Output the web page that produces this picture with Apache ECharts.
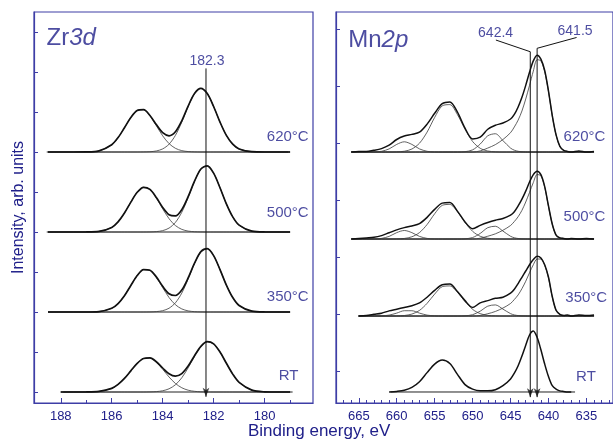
<!DOCTYPE html>
<html lang="en" style="height: 100%">
<head>
<meta charset="utf-8">
<title>Zr3d and Mn2p spectra</title>
</head>
<body style="height: 100%; margin: 0">
<div id="container" style="height: 100%"></div>

<script type="text/javascript" src="https://cdn.jsdelivr.net/npm/echarts/dist/echarts.min.js"></script>

<script type="text/javascript">

var dom = document.getElementById('container');
var myChart = echarts.init(dom);

var textColor = '#20208a';
var frameColor = '#3e3ea6';
var font = 'Liberation Sans, Arial, sans-serif';

// spectra from top to bottom
var temps = ['620°C', '500°C', '350°C', 'RT'];

// ---- Zr3d ----
var zrBE = [188.5, 188, 187.5, 187, 186.5, 186, 185.75, 185.5, 185.25, 185, 184.75, 184.5, 184.25, 184, 183.75,
            183.5, 183.25, 183, 182.75, 182.5, 182.25, 182, 181.75, 181.5, 181.25, 181, 180.5, 180, 179.5, 179];
var zrOffset = [6, 4, 2, 0];
var zrEnvelope = [
    [0,0,0,0.002,0.028,0.181,0.360,0.607,0.863,1.038, 1.058,0.914,0.685,0.482,0.405,0.507,0.781,1.148,1.464,1.59, 1.461,1.137,0.747,0.415,0.195,0.077,0.007,0,0,0],
    [0,0,0,0.001,0.014,0.115,0.254,0.474,0.746,0.992, 1.117,1.064,0.863,0.614,0.431,0.401,0.559,0.883,1.272,1.575, 1.655,1.471,1.106,0.702,0.377,0.171,0.021,0.001,0,0],
    [0,0,0,0,0.011,0.093,0.212,0.407,0.662,0.912, 1.061,1.045,0.878,0.643,0.456,0.412,0.549,0.852,1.220,1.509, 1.585,1.409,1.060,0.673,0.361,0.164,0.020,0.001,0,0],
    [null,0,0,0.001,0.014,0.091,0.189,0.339,0.529,0.716, 0.838,0.853,0.757,0.600,0.455,0.395,0.461,0.649,0.908,1.141, 1.257,1.203,0.999,0.718,0.447,0.241,0.046,0.005,0,0]
];
var zr52 = [
    [0,0,0,0,0,0,0,0,0,0, 0.002,0.007,0.026,0.077,0.195,0.415,0.747,1.137,1.461,1.59, 1.461,1.137,0.747,0.415,0.195,0.077,0.007,0,0,0],
    [0,0,0,0,0,0,0,0,0,0, 0,0.002,0.010,0.034,0.098,0.240,0.493,0.860,1.265,1.573, 1.655,1.471,1.106,0.702,0.377,0.171,0.021,0.001,0,0],
    [0,0,0,0,0,0,0,0,0,0, 0,0.002,0.010,0.033,0.094,0.230,0.472,0.824,1.212,1.507, 1.585,1.409,1.060,0.673,0.361,0.164,0.020,0.001,0,0],
    [null,0,0,0,0,0,0,0,0,0, 0,0.003,0.010,0.031,0.080,0.181,0.355,0.604,0.891,1.136, 1.256,1.203,0.999,0.718,0.447,0.241,0.046,0.005,0,0]
];
var zr32 = [
    [0,0,0,0.002,0.028,0.181,0.360,0.607,0.863,1.038, 1.056,0.907,0.659,0.405,0.210,0.092,0.034,0.011,0.003,0, 0,0,0,0,0,0,0,0,0,0],
    [0,0,0,0.001,0.014,0.115,0.254,0.474,0.746,0.992, 1.117,1.062,0.853,0.580,0.333,0.161,0.066,0.023,0.007,0.002, 0,0,0,0,0,0,0,0,0,0],
    [0,0,0,0,0.011,0.093,0.212,0.407,0.662,0.912, 1.061,1.043,0.868,0.610,0.362,0.182,0.077,0.028,0.008,0.002, 0,0,0,0,0,0,0,0,0,0],
    [null,0,0,0.001,0.014,0.091,0.189,0.339,0.529,0.716, 0.838,0.850,0.747,0.569,0.375,0.214,0.106,0.045,0.017,0.005, 0.001,0,0,0,0,0,0,0,0,0]
];
var zrBaseline = [[188.55, 179.08], [188.55, 179.0], [188.5, 179.0], [187.9, 178.9]];
var zrPeak = 182.3;
var zrTicks = [188, 186, 184, 182, 180];
var zrMinorTicks = [187, 185, 183, 181, 179];
var zrYTicks = [0, 1, 2, 3, 4, 5, 6, 7, 8, 9];

// ---- Mn2p ----
var mnBE = [666, 665, 664, 663, 662, 661, 660, 659, 658, 657, 656, 655, 654, 653, 652, 651, 650, 649, 648, 647,
            646, 645, 644.5, 644, 643.5, 643, 642.5, 642, 641.5, 641, 640.5, 640, 639.5, 639, 638.5, 638, 637.5, 637, 636, 635, 634];
var mnOffset = [4.21, 2.684, 1.333, 0];
var mnEnvelope = [
    [0.00,0.01,0.01,0.03,0.06,0.12,0.22,0.28,0.31,0.35, 0.49,0.68,0.85,0.88,0.70,0.42,0.23,0.26,0.40,0.47, 0.51,0.58,0.66,0.79,0.96,1.17,1.40,1.60,1.70,1.63, 1.43,1.07,0.64,0.30,0.10,0.03,0.01,0.00,0.02,0.00, 0.01],
    [0.00,0.01,0.02,0.03,0.06,0.11,0.16,0.20,0.23,0.27, 0.38,0.52,0.63,0.64,0.49,0.30,0.18,0.24,0.29,0.33, 0.36,0.42,0.48,0.58,0.70,0.84,1.00,1.13,1.19,1.13, 0.92,0.58,0.26,0.07,0.02,0.01,0.00,0.01,0.00,0.01, 0.00],
    [null,0.00,0.01,0.03,0.05,0.09,0.12,0.15,0.18,0.23, 0.33,0.45,0.55,0.56,0.43,0.27,0.15,0.23,0.27,0.31, 0.33,0.40,0.47,0.57,0.68,0.79,0.90,0.99,1.05,1.02, 0.90,0.68,0.34,0.10,0.03,0.01,0.02,0.00,0.02,0.01, 0.02],
    [null,null,null,null,null,0.00,0.01,0.03,0.08,0.18, 0.34,0.49,0.56,0.50,0.31,0.13,0.05,0.02,0.02,0.04, 0.11,0.23,0.33,0.46,0.63,0.82,1.00,1.07,0.96,0.74, 0.49,0.27,0.11,0.05,0.02,0.01,0.00,0.00,null,null, null]
];
// fitted components (620, 500, 350 only)
var mnMain = [
    [0,0,0,0,0,0,0,0,0,0, 0,0,0,0,0,0,0,0.02,0.07,0.13, 0.22,0.34,0.44,0.56,0.72,0.93,1.17,1.42,1.62,1.60, 1.41,1.06,0.63,0.30,0.10,0.03,0.01,0,0,0, 0],
    [0,0,0,0,0,0,0,0,0,0, 0,0,0,0,0,0,0,0.014,0.049,0.091, 0.154,0.237,0.307,0.391,0.503,0.649,0.817,0.991,1.131,1.11, 0.91,0.57,0.26,0.07,0.02,0.01,0,0,0,0, 0],
    [0,0,0,0,0,0,0,0,0,0, 0,0,0,0,0,0,0,0.01,0.04,0.08, 0.14,0.22,0.29,0.37,0.48,0.61,0.76,0.90,1.00,1.00, 0.89,0.67,0.33,0.10,0.03,0.01,0,0,0,0, 0]
];
var mnSat1 = [
    [0,0,0,0,0,0,0,0,0,0, 0,0,0,0,0,0.006,0.038,0.140,0.285,0.321, 0.200,0.069,0.032,0.013,0.005,0.001,0,0,0,0, 0,0,0,0,0,0,0,0,0,0, 0],
    [0,0,0,0,0,0,0,0,0,0, 0,0,0,0,0,0.004,0.026,0.098,0.199,0.224, 0.139,0.048,0.022,0.009,0.003,0.001,0,0,0,0, 0,0,0,0,0,0,0,0,0,0, 0],
    [0,0,0,0,0,0,0,0,0,0, 0,0,0,0,0,0.004,0.023,0.085,0.173,0.195, 0.121,0.042,0.019,0.008,0.003,0.001,0,0,0,0, 0,0,0,0,0,0,0,0,0,0, 0]
];
var mn2p12 = [
    [0,0,0,0,0,0,0.003,0.014,0.053,0.155, 0.349,0.607,0.811,0.832,0.657,0.399,0.185,0.066,0.018,0.004, 0,0,0,0,0,0,0,0,0,0, 0,0,0,0,0,0,0,0,0,0, 0],
    [0,0,0,0,0,0,0.002,0.010,0.039,0.113, 0.254,0.443,0.591,0.607,0.479,0.291,0.135,0.048,0.013,0.003, 0,0,0,0,0,0,0,0,0,0, 0,0,0,0,0,0,0,0,0,0, 0],
    [0,0,0,0,0,0,0.002,0.009,0.034,0.098, 0.222,0.385,0.515,0.528,0.417,0.253,0.117,0.042,0.011,0.003, 0,0,0,0,0,0,0,0,0,0, 0,0,0,0,0,0,0,0,0,0, 0]
];
var mnSat2 = [
    [0,0,0,0.001,0.013,0.055,0.134,0.180,0.134,0.055, 0.013,0.001,0,0,0,0,0,0,0,0, 0,0,0,0,0,0,0,0,0,0, 0,0,0,0,0,0,0,0,0,0, 0],
    [0,0,0,0,0.011,0.046,0.112,0.150,0.112,0.046, 0.011,0.001,0,0,0,0,0,0,0,0, 0,0,0,0,0,0,0,0,0,0, 0,0,0,0,0,0,0,0,0,0, 0],
    [0,0,0,0,0.003,0.016,0.051,0.093,0.093,0.051, 0.016,0.003,0,0,0,0,0,0,0,0, 0,0,0,0,0,0,0,0,0,0, 0,0,0,0,0,0,0,0,0,0, 0]
];
var mnBaseline = [[665.8, 634.4], [665.8, 634.1], [665.1, 634.0], [660.8, 636.5]];
var mnPeaks = [642.4, 641.5];
var mnTicks = [665, 660, 655, 650, 645, 640, 635];
var mnMinorTicks = [632, 633, 634, 636, 637, 638, 639, 641, 642, 643, 644, 646, 647, 648, 649, 651, 652, 653, 654,
                    656, 657, 658, 659, 661, 662, 663, 664, 666, 667];
var mnYTicks = [0.36, 1.36, 2.36, 3.36, 4.36, 5.36, 6.36];

function pairs(be, vals, offset, ref) {
    var out = [];
    for (var i = 0; i < be.length; i++) {
        if (vals[i] == null || (ref && ref[i] == null)) continue;
        out.push([be[i], vals[i] + offset]);
    }
    return out;
}

function curve(panel, data, width, color, z, straight) {
    return {
        type: 'line', xAxisIndex: panel * 2, yAxisIndex: panel, data: data,
        symbol: 'none', smooth: straight ? false : 0.3, silent: true, z: z,
        lineStyle: { width: width, color: color }
    };
}

var series = [];
for (var k = 0; k < 4; k++) {
    series.push(curve(0, [[zrBaseline[k][0], zrOffset[k]], [zrBaseline[k][1], zrOffset[k]]], 1, '#222', 2, true));
    series.push(curve(0, pairs(zrBE, zr52[k], zrOffset[k]), 0.8, '#3a3a3a', 3));
    series.push(curve(0, pairs(zrBE, zr32[k], zrOffset[k]), 0.8, '#3a3a3a', 3));
    series.push(curve(0, pairs(zrBE, zrEnvelope[k], zrOffset[k]), 1.7, '#111', 4));

    series.push(curve(1, [[mnBaseline[k][0], mnOffset[k]], [mnBaseline[k][1], mnOffset[k]]], 1, '#222', 2, true));
    if (k < 3) {
        [mnMain, mnSat1, mn2p12, mnSat2].forEach(function (comp) {
            series.push(curve(1, pairs(mnBE, comp[k], mnOffset[k], mnEnvelope[k]), 0.8, '#3a3a3a', 3));
        });
    }
    series.push(curve(1, pairs(mnBE, mnEnvelope[k], mnOffset[k]), 1.5, '#111', 4));
}

// peak position markers
series.push(curve(0, [[zrPeak, 8.09], [zrPeak, -0.12]], 1, '#111', 5, true));
series.push(curve(1, [[646.93, 6.175], [mnPeaks[0], 5.97], [mnPeaks[0], -0.09]], 1, '#111', 5, true));
series.push(curve(1, [[636.3, 6.22], [mnPeaks[1], 6.03], [mnPeaks[1], -0.09]], 1, '#111', 5, true));
series.push({
    type: 'scatter', xAxisIndex: 0, yAxisIndex: 0, silent: true, z: 6,
    symbol: 'arrow', symbolSize: [5, 9], symbolRotate: 180, itemStyle: { color: '#111' },
    data: [[zrPeak, -0.12]]
});
series.push({
    type: 'scatter', xAxisIndex: 2, yAxisIndex: 1, silent: true, z: 6,
    symbol: 'arrow', symbolSize: [5, 9], symbolRotate: 180, itemStyle: { color: '#111' },
    data: [[mnPeaks[0], -0.09], [mnPeaks[1], -0.09]]
});

function textMarks(panel, items) {
    return {
        type: 'scatter', xAxisIndex: panel * 2, yAxisIndex: panel, silent: true, z: 7,
        symbol: 'circle', symbolSize: 1, itemStyle: { color: 'rgba(0,0,0,0)' },
        data: items
    };
}
function tLabel(pos, size, extra) {
    var l = { show: true, position: pos, distance: 0, color: textColor, fontFamily: font, fontSize: size };
    for (var key in extra) l[key] = extra[key];
    return l;
}
var titleRich = {
    n: { fontSize: 24, color: textColor, fontFamily: font },
    i: { fontSize: 24, color: textColor, fontFamily: font, fontStyle: 'italic' }
};
var zrLabelAt = [[178.25, 6.375], [178.25, 4.475], [178.25, 2.375], [178.65, 0.4]];
var mnLabelAt = [[632.43, 4.48], [632.43, 3.075], [632.2, 1.66], [633.7, 0.27]];

var zrText = temps.map(function (t, k) {
    return { value: zrLabelAt[k], label: tLabel('left', 15, { formatter: t }) };
});
zrText.push({ value: [188.58, 8.83], label: tLabel('right', 24, { formatter: '{n|Zr}{i|3d}', rich: titleRich }) });
zrText.push({ value: [182.26, 8.26], label: tLabel('inside', 14, { formatter: String(zrPeak) }) });

var mnText = temps.map(function (t, k) {
    return { value: mnLabelAt[k], label: tLabel('left', 15, { formatter: t }) };
});
mnText.push({ value: [666.45, 6.175], label: tLabel('right', 24, { formatter: '{n|Mn}{i|2p}', rich: titleRich }) });
mnText.push({ value: [646.97, 6.29], label: tLabel('inside', 14, { formatter: mnPeaks[0].toFixed(1) }) });
mnText.push({ value: [636.5, 6.33], label: tLabel('inside', 14, { formatter: mnPeaks[1].toFixed(1) }) });

series.push(textMarks(0, zrText));
series.push(textMarks(1, mnText));

function xAxis(grid, min, max, ticks, isMinor) {
    return {
        type: 'value', gridIndex: grid, min: min, max: max, inverse: true, position: 'bottom',
        splitLine: { show: false },
        axisLine: { show: !isMinor, onZero: false, lineStyle: { color: frameColor, width: 1.2 } },
        axisTick: { inside: true, length: isMinor ? 3 : 5, customValues: ticks, lineStyle: { color: frameColor, width: 1 } },
        axisLabel: isMinor ? { show: false } : {
            customValues: ticks, color: textColor, fontFamily: font, fontSize: 13, margin: 7
        }
    };
}
function yAxis(grid, min, max, ticks) {
    return {
        type: 'value', gridIndex: grid, min: min, max: max,
        splitLine: { show: false },
        axisLine: { show: true, onZero: false, lineStyle: { color: frameColor, width: 1.2 } },
        axisTick: { inside: true, length: 4, customValues: ticks, lineStyle: { color: frameColor } },
        axisLabel: { show: false }
    };
}

var yLeft = yAxis(0, -0.275, 9.5, zrYTicks);
yLeft.name = 'Intensity, arb. units';
yLeft.nameLocation = 'middle';
yLeft.nameGap = 7;
yLeft.nameTextStyle = { color: textColor, fontFamily: font, fontSize: 16 };

var option = {
    animation: false,
    backgroundColor: '#ffffff',
    title: {
        text: 'Binding energy, eV',
        left: 248, top: 423, padding: 0,
        textStyle: { color: textColor, fontFamily: font, fontSize: 17, fontWeight: 'normal' }
    },
    grid: [
        { left: 34, top: 12, width: 279, height: 391, show: true, borderColor: frameColor, borderWidth: 1.2 },
        { left: 336, top: 12, width: 281, height: 391, show: true, borderColor: frameColor, borderWidth: 1.2 }
    ],
    xAxis: [
        xAxis(0, 178.1, 189.05, zrTicks, false),
        xAxis(0, 178.1, 189.05, zrMinorTicks, true),
        xAxis(1, 631.5, 668, mnTicks, false),
        xAxis(1, 631.5, 668, mnMinorTicks, true)
    ],
    yAxis: [
        yLeft,
        yAxis(1, -0.193, 6.667, mnYTicks)
    ],
    series: series
};

if (option && typeof option === 'object') {
    myChart.setOption(option);
}

window.addEventListener('resize', myChart.resize);
</script>
</body>
</html>
